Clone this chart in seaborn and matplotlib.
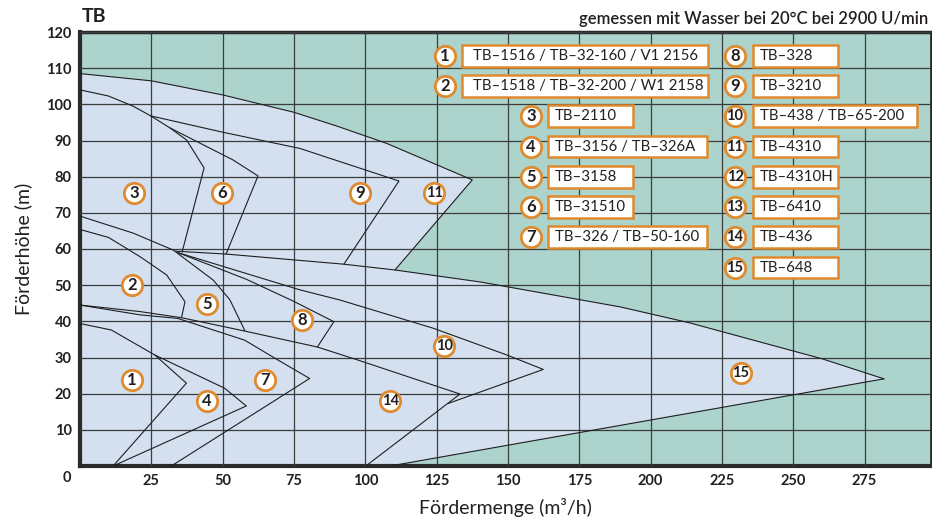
import pandas as pd
import seaborn as sns
import matplotlib.pyplot as plt
from matplotlib.patches import Rectangle

# Kennfeld TB-Pumpen, Werte (Q in m3/h, H in m)
huelle_q = [0, 25, 50, 75, 90, 107.5, 137.5, 110.4]
huelle_h = [108.5, 106.5, 102.6, 97.8, 94.0, 89.2, 79.1, 54.2]
k3_q = [0, 10, 18.6, 24.8, 31.5, 37.4, 43.5, 35.8]
k3_h = [104.0, 102.3, 99.5, 96.8, 93.5, 90.1, 82.4, 59.2]
k9_q = [24.8, 50, 77.1, 111.8, 92.5]
k9_h = [96.8, 92.3, 87.8, 78.8, 55.8]
k6_q = [31.5, 53.7, 62.4, 51.2]
k6_h = [93.5, 84.6, 80.2, 58.6]
k5_q = [0, 18.6, 32.7, 46.7, 52.5, 57.8]
k5_h = [69.1, 64.4, 59.7, 51.4, 46.0, 37.4]
k2_q = [0, 10, 21, 30.4, 36.8, 35.6]
k2_h = [65.4, 63.2, 57.9, 52.8, 45.4, 41.1]
k15_oben_q = [33.5, 51.2, 92.5, 110.4, 140.2, 189.3, 213.6, 260.3, 281.8]
k15_oben_h = [59.4, 58.6, 55.8, 54.2, 50.9, 44.0, 39.6, 29.6, 24.1]
k15_unten_q = [281.8, 108.7]
k15_unten_h = [24.1, 0]
k8_q = [34.3, 58.4, 75, 89.0, 83.2]
k8_h = [59.0, 51.6, 45.5, 39.9, 32.9]
k10_q = [34.3, 77.1, 91.1, 123.8, 149.6, 162.4, 129.1]
k10_h = [59.0, 48.7, 45.9, 38.1, 30.7, 26.7, 17.3]
k14_q = [0, 21, 35.6, 57.8, 83.2, 97.4, 133.2, 100.2]
k14_h = [44.5, 42.7, 41.0, 37.3, 32.9, 29.3, 19.9, 0]
k7_q = [0, 21, 34.3, 57.7, 69.4, 80.5, 32.0]
k7_h = [44.5, 41.8, 40.8, 34.8, 29.3, 24.2, 0]
k1_q = [0, 11, 26.2, 37.3, 11.6]
k1_h = [39.4, 37.6, 30.7, 22.9, 0]
k4_q = [26.2, 50.7, 58.3, 11.6]
k4_h = [30.7, 21.5, 16.6, 0]

# Nummern im Feld
feld_nr = ['1', '2', '3', '4', '5', '6', '7', '8', '9', '10', '11', '14', '15']
feld_q = [18.2, 18.2, 18.9, 44.5, 44.5, 49.8, 64.8, 77.8, 98.1, 127.6, 124.1, 108.7, 231.7]
feld_h = [23.8, 50.0, 75.5, 18.0, 44.8, 75.5, 23.8, 40.4, 75.5, 33.2, 75.5, 18.0, 25.7]

typen = ['TB–1516 / TB–32-160 / V1 2156', 'TB–1518 / TB–32-200 / W1 2158',
         'TB–2110', 'TB–3156 / TB–326A', 'TB–3158', 'TB–31510',
         'TB–326 / TB–50-160', 'TB–328', 'TB–3210', 'TB–438 / TB–65-200',
         'TB–4310', 'TB–4310H', 'TB–6410', 'TB–436', 'TB–648']

orange = '#e08a2e'
teal = '#acd3cc'
hell = '#d4e0f0'
dunkel = '#231f20'

sns.set_theme(style="white")
plt.rcParams['font.family'] = ['Lato', 'DejaVu Sans']

fig = plt.figure(figsize=(9.32, 5.22), dpi=100)
ax = fig.add_axes([80/932, 56/522, 851/932, 434/522])
ax.set_facecolor(teal)

# helle Flaeche
fill_q = [0] + huelle_q + k15_oben_q[4:] + [108.7]
fill_h = [0] + huelle_h + k15_oben_h[4:] + [0]
ax.fill(fill_q, fill_h, color=hell, lw=0, zorder=1)

kurven = {
    'huelle': (huelle_q, huelle_h), 'k3': (k3_q, k3_h), 'k9': (k9_q, k9_h),
    'k6': (k6_q, k6_h), 'k5': (k5_q, k5_h), 'k2': (k2_q, k2_h),
    'k15o': (k15_oben_q, k15_oben_h), 'k15u': (k15_unten_q, k15_unten_h),
    'k8': (k8_q, k8_h), 'k10': (k10_q, k10_h), 'k14': (k14_q, k14_h),
    'k7': (k7_q, k7_h), 'k1': (k1_q, k1_h), 'k4': (k4_q, k4_h),
}
rows = []
for name, (qs, hs) in kurven.items():
    for q, h in zip(qs, hs):
        rows.append({'kurve': name, 'Q': q, 'H': h})
df = pd.DataFrame(rows)
sns.lineplot(data=df, x='Q', y='H', units='kurve', estimator=None, sort=False,
             color='#1e1e1e', lw=0.8, legend=False, ax=ax, zorder=3)

ax.set_xlim(0, 298.3)
ax.set_ylim(0, 120)
ax.set_xticks(range(25, 276, 25))
ax.set_yticks(range(10, 121, 10))
ax.set_axisbelow(False)
ax.grid(True, color='#3c3c3c', lw=0.9, zorder=2)
ax.tick_params(length=0, labelsize=10.5, labelcolor=dunkel, pad=6)
for lab in ax.get_xticklabels() + ax.get_yticklabels():
    lab.set_fontweight('bold')
for s, w in zip(['left', 'bottom', 'top', 'right'], [3, 3, 2.5, 2]):
    ax.spines[s].set_color('#2a2a2a')
    ax.spines[s].set_linewidth(w)
ax.set_xlabel('Fördermenge (m³/h)', fontsize=14, color=dunkel, labelpad=7)
ax.set_ylabel('Förderhöhe (m)', fontsize=14, color=dunkel, labelpad=10)
ax.text(-0.01, -0.012, '0', transform=ax.transAxes, ha='right', va='top',
        fontsize=10.5, fontweight='bold', color=dunkel)

fig.text(82/932, 1 - 16/522, 'TB', fontsize=14, fontweight='bold', color=dunkel, va='center')
fig.text(928/932, 1 - 19/522, 'gemessen mit Wasser bei 20°C bei 2900 U/min',
         fontsize=12, fontweight='semibold', color=dunkel, ha='right', va='center')


def kreis(q, h, nr):
    ax.scatter([q], [h], s=215, facecolor='white', edgecolor=orange, lw=2.0, zorder=6)
    fs = 12 if len(nr) == 1 else 10.5
    ax.text(q, h, nr, ha='center', va='center', fontsize=fs, fontweight='bold',
            color=dunkel, zorder=7)


for nr, q, h in zip(feld_nr, feld_q, feld_h):
    kreis(q, h, nr)

# Legende
zeile0, dz = 113.4, 8.36
for i, name in enumerate(typen):
    nr = str(i + 1)
    if i < 2:
        kq, b0, b1, zeile = 127.9, 133.8, 220.1, i
    elif i < 7:
        kq, b0, zeile = 158.0, 164.1, i
        b1 = 219.8 if name in ('TB–3156 / TB–326A', 'TB–326 / TB–50-160') else 193.8
    else:
        kq, b0, zeile = 229.6, 235.8, i - 7
        b1 = 293.3 if i == 9 else 265.7
    h = zeile0 - dz * zeile
    ax.add_patch(Rectangle((b0, h - 3.0), b1 - b0, 6.0, facecolor='white',
                           edgecolor=orange, lw=1.8, zorder=5))
    ax.text(b0 + (4.0 if i < 2 else 2.4), h, name, ha='left', va='center',
            fontsize=10.8, color=dunkel, zorder=7)
    kreis(kq, h, nr)

fig.savefig('out.png', dpi=100)
